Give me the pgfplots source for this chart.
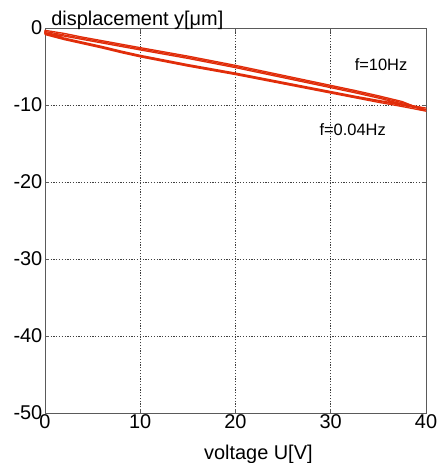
\documentclass[border=0pt]{standalone}
\usepackage{fontspec}
\setmainfont{Liberation Sans}
\usepackage{pgfplots}
\pgfplotsset{compat=1.18}

\definecolor{loopred}{RGB}{225,45,10}
\definecolor{frame}{RGB}{90,90,90}

\begin{document}
\begin{tikzpicture}
\path[use as bounding box] (0,0) rectangle (443bp,463bp);
\begin{axis}[
  at={(45bp,50bp)}, anchor=south west,
  scale only axis, width=381bp, height=385bp,
  xmin=0, xmax=40, ymin=-50, ymax=0,
  xtick={0,10,20,30,40},
  ytick={-50,-40,-30,-20,-10,0},
  yticklabels={-50,-40,-30,-20,-10,0},
  grid=major,
  major grid style={dash pattern=on 1.2pt off 1.6pt, black!75, line width=0.6pt},
  axis line style={frame, line width=0.8pt},
  tick align=inside, major tick length=4bp,
  tick style={frame, line width=0.6pt},
  ticklabel style={font=\fontsize{20}{22}\selectfont},
  xticklabel style={inner sep=1.5bp},
  yticklabel style={inner sep=2.5bp},
  /pgf/number format/assume math mode=true,
  xlabel={voltage U[V]},
  xlabel style={font=\fontsize{20}{22}\selectfont, at={(axis description cs:0.56,0)}, anchor=base, yshift=-46bp},
  clip=false,
]
% hysteresis loop, first cycle
\addplot[loopred, line width=1.3pt, line join=round] coordinates {
 (0,-0.75) (2,-1.4) (4,-1.95) (6,-2.5) (8,-3.1) (10,-3.65) (12.5,-4.25)
 (15,-4.85) (17.5,-5.4) (20,-5.95) (22.5,-6.55) (25,-7.15) (27.5,-7.75)
 (30,-8.35) (32.5,-8.95) (35,-9.5) (37.5,-10.05) (40,-10.6)
 (37.5,-9.7) (35,-8.95) (32.5,-8.25) (30,-7.6) (27.5,-6.95) (25,-6.3)
 (22.5,-5.65) (20,-5.0) (17.5,-4.4) (15,-3.8) (12.5,-3.25) (10,-2.7)
 (8,-2.25) (6,-1.8) (4,-1.35) (2,-0.9) (0,-0.45) (0,-0.75)
};
% second cycle
\addplot[loopred, line width=1.3pt, line join=round] coordinates {
 (0,-0.85) (2,-1.5) (4,-2.05) (6,-2.6) (8,-3.2) (10,-3.75) (12.5,-4.35)
 (15,-4.95) (17.5,-5.5) (20,-6.05) (22.5,-6.65) (25,-7.25) (27.5,-7.85)
 (30,-8.45) (32.5,-9.05) (35,-9.65) (37.5,-10.2) (40,-10.8)
 (37.5,-9.55) (35,-8.8) (32.5,-8.1) (30,-7.45) (27.5,-6.8) (25,-6.15)
 (22.5,-5.5) (20,-4.85) (17.5,-4.25) (15,-3.65) (12.5,-3.1) (10,-2.55)
 (8,-2.1) (6,-1.65) (4,-1.2) (2,-0.7) (0,-0.3) (0,-0.85)
};
% third cycle
\addplot[loopred, line width=1.3pt, line join=round] coordinates {
 (0,-0.65) (2,-1.3) (4,-1.85) (6,-2.4) (8,-3.0) (10,-3.55) (12.5,-4.15)
 (15,-4.75) (17.5,-5.3) (20,-5.85) (22.5,-6.45) (25,-7.05) (27.5,-7.65)
 (30,-8.25) (32.5,-8.85) (35,-9.4) (37.5,-9.95) (40,-10.4)
 (37.5,-9.85) (35,-9.1) (32.5,-8.4) (30,-7.75) (27.5,-7.1) (25,-6.45)
 (22.5,-5.8) (20,-5.15) (17.5,-4.55) (15,-3.95) (12.5,-3.4) (10,-2.85)
 (8,-2.4) (6,-1.95) (4,-1.5) (2,-1.05) (0,-0.6) (0,-0.65)
};
\node[anchor=base west, inner sep=0pt, font=\fontsize{20}{22}\selectfont]
  at (axis description cs:0.016,1) [yshift=3bp] {displacement y[μm]};
\node[anchor=west, inner sep=0pt, font=\fontsize{16.5}{18}\selectfont]
  at (axis cs:32.5,-4.8) {f=10Hz};
\node[anchor=west, inner sep=0pt, font=\fontsize{16.5}{18}\selectfont]
  at (axis cs:28.8,-13.2) {f=0.04Hz};
\end{axis}
\end{tikzpicture}
\end{document}
